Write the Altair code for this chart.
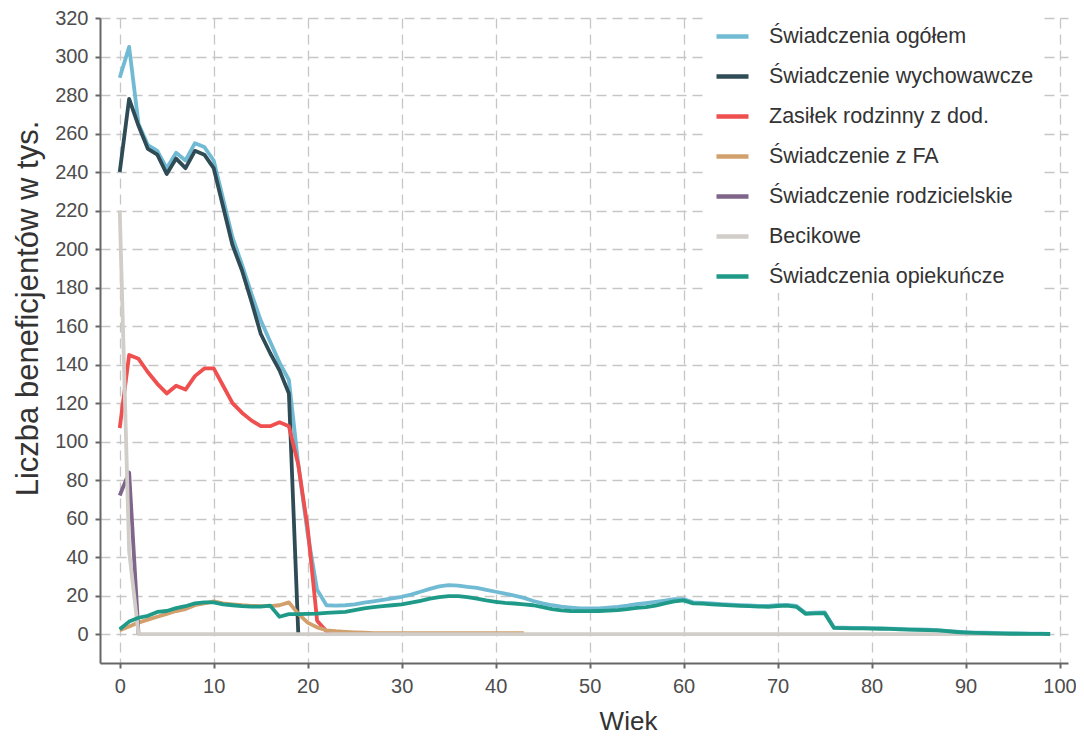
import altair as alt
import pandas as pd

series_names = [
    "Świadczenia ogółem",
    "Świadczenie wychowawcze",
    "Zasiłek rodzinny z dod.",
    "Świadczenie z FA",
    "Świadczenie rodzicielskie",
    "Becikowe",
    "Świadczenia opiekuńcze",
]
series_colors = ["#70bbd3", "#2f4b55", "#f04f4f", "#d2a06c", "#7f6589", "#d1cdc9", "#1f9a89"]

ogolem = [289, 305, 265, 254, 251, 242, 250, 246, 255, 253,
          246, 226, 206, 192, 177, 163, 152, 141, 132, 88,
          52, 23, 15, 14.8, 15, 15.5, 16.3, 17, 17.8, 18.6,
          19.4, 20.5, 22, 23.5, 24.8, 25.4, 25.2, 24.5, 24, 23,
          22, 21, 20, 18.8, 17.2, 16, 15, 14.3, 13.8, 13.4,
          13.3, 13.4, 13.8, 14.2, 14.8, 15.6, 16.1, 16.7, 17.4, 18.2,
          18.2, 16.5, 16.2, 15.9, 15.6, 15.3, 15.1, 14.9, 14.7, 14.6,
          15.0, 15.2, 14.6, 10.9, 11.2, 11.3, 3.4, 3.3, 3.2, 3.2,
          3.1, 3.0, 2.9, 2.7, 2.5, 2.4, 2.3, 2.1, 1.7, 1.3,
          1.0, 0.8, 0.7, 0.6, 0.5, 0.4, 0.3, 0.2, 0.2, 0.1]
wychowawcze = [240, 278, 264, 252, 249, 239, 247, 242, 251, 249,
               242, 222, 202, 189, 173, 156, 146, 137, 125, 0]
zasilek = [107, 145, 143, 136, 130, 125, 129, 127, 134, 138,
           138, 129, 120, 115, 111, 108, 108, 110, 108, 88,
           55, 7, 1.5, 1, 0.5, 0]
fa = [2, 4, 6, 7.5, 9, 10.5, 12, 13, 15, 16,
      17, 16, 15.5, 15, 14.7, 14.5, 14.5, 15, 16.5, 10.5,
      6, 3.5, 2, 1.5, 1.2, 0.9, 0.7, 0.5, 0.5, 0.5,
      0.5, 0.5, 0.5, 0.5, 0.5, 0.5, 0.5, 0.5, 0.5, 0.5,
      0.5, 0.5, 0.5, 0.5]
rodzicielskie = [72, 84, 0]
becikowe = [220, 43] + [0] * 98
opiekuncze = [2.5, 6.5, 8.5, 9.5, 11.5, 12, 13.5, 14.5, 16, 16.5,
              16.5, 15.5, 15, 14.5, 14.3, 14.3, 14.8, 9, 10.4, 10.4,
              10.5, 10.6, 11, 11.3, 11.6, 12.5, 13.4, 14, 14.5, 15,
              15.4, 16.3, 17.3, 18.4, 19.2, 19.7, 19.7, 19.2, 18.4, 17.5,
              16.8, 16.2, 15.9, 15.5, 15, 14, 13, 12.3, 12, 11.9,
              11.9, 12, 12.2, 12.5, 13, 13.6, 14, 14.8, 16, 17,
              17.5, 16, 15.8, 15.5, 15.2, 14.9, 14.7, 14.5, 14.3, 14.2,
              14.6, 14.8, 14.2, 10.5, 10.8, 10.9, 3.2, 3.1, 3, 3,
              2.9, 2.8, 2.7, 2.5, 2.3, 2.2, 2.1, 1.9, 1.5, 1.1,
              0.8, 0.6, 0.5, 0.4, 0.3, 0.2, 0.2, 0.1, 0.1, 0.05]

x_ticks = list(range(0, 101, 10))
y_ticks = list(range(0, 321, 20))

all_series = [ogolem, wychowawcze, zasilek, fa, rodzicielskie, becikowe, opiekuncze]
rows = []
for name, vals in zip(series_names, all_series):
    for age, v in enumerate(vals):
        rows.append({"wiek": age, "wartosc": v, "seria": name})
df = pd.DataFrame(rows)

FONT = "Liberation Sans"

color = alt.Color(
    "seria:N",
    scale=alt.Scale(domain=series_names, range=series_colors),
    legend=alt.Legend(
        title=None,
        orient="none",
        legendX=608,
        legendY=-6,
        padding=6,
        fillColor="white",
        symbolType="stroke",
        symbolSize=1024,
        symbolStrokeWidth=4.5,
        labelFontSize=21.5,
        labelFont=FONT,
        labelColor="#333333",
        labelOffset=18,
        rowPadding=11,
        labelLimit=400,
    ),
)

x = alt.X(
    "wiek:Q",
    scale=alt.Scale(domain=[-2.1, 100.9], nice=False, zero=False),
    axis=alt.Axis(
        title="Wiek",
        values=x_ticks,
        titleX=528,
        titleY=58,
        titleBaseline="middle",
    ),
)
y = alt.Y(
    "wartosc:Q",
    scale=alt.Scale(domain=[-15, 320], nice=False, zero=False),
    axis=alt.Axis(
        title="Liczba beneficjentów w tys.",
        values=y_ticks,
        titleX=-72,
        titleY=290,
        titleBaseline="middle",
        titleAngle=-90,
        titleFontSize=31,
    ),
)

layers = []
for name in series_names:
    layers.append(
        alt.Chart(df)
        .transform_filter(alt.datum.seria == name)
        .mark_line(strokeWidth=3.8, strokeJoin="round")
        .encode(x=x, y=y, color=color)
    )

chart = (
    alt.layer(*layers)
    .properties(
        width=968,
        height=645,
        autosize=alt.AutoSizeParams(type="none"),
        padding={"left": 92, "top": 10, "right": 8, "bottom": 75},
        background="white",
    )
    .configure_view(stroke=None)
    .configure_axis(
        labelFont=FONT,
        labelFontSize=20,
        labelColor="#4d4d4d",
        titleFont=FONT,
        titleFontSize=26,
        titleColor="#333333",
        titleFontWeight="normal",
        domainColor="#666666",
        domainWidth=2,
        tickColor="#666666",
        tickWidth=2,
        tickSize=5,
        labelPadding=7,
        grid=True,
        gridColor="#c6c6c6",
        gridDash=[10, 6],
        gridWidth=1.3,
    )
    .configure_axisX(labelPadding=8)
)

chart.save("out.html", embed_options={"renderer": "svg", "actions": False})
